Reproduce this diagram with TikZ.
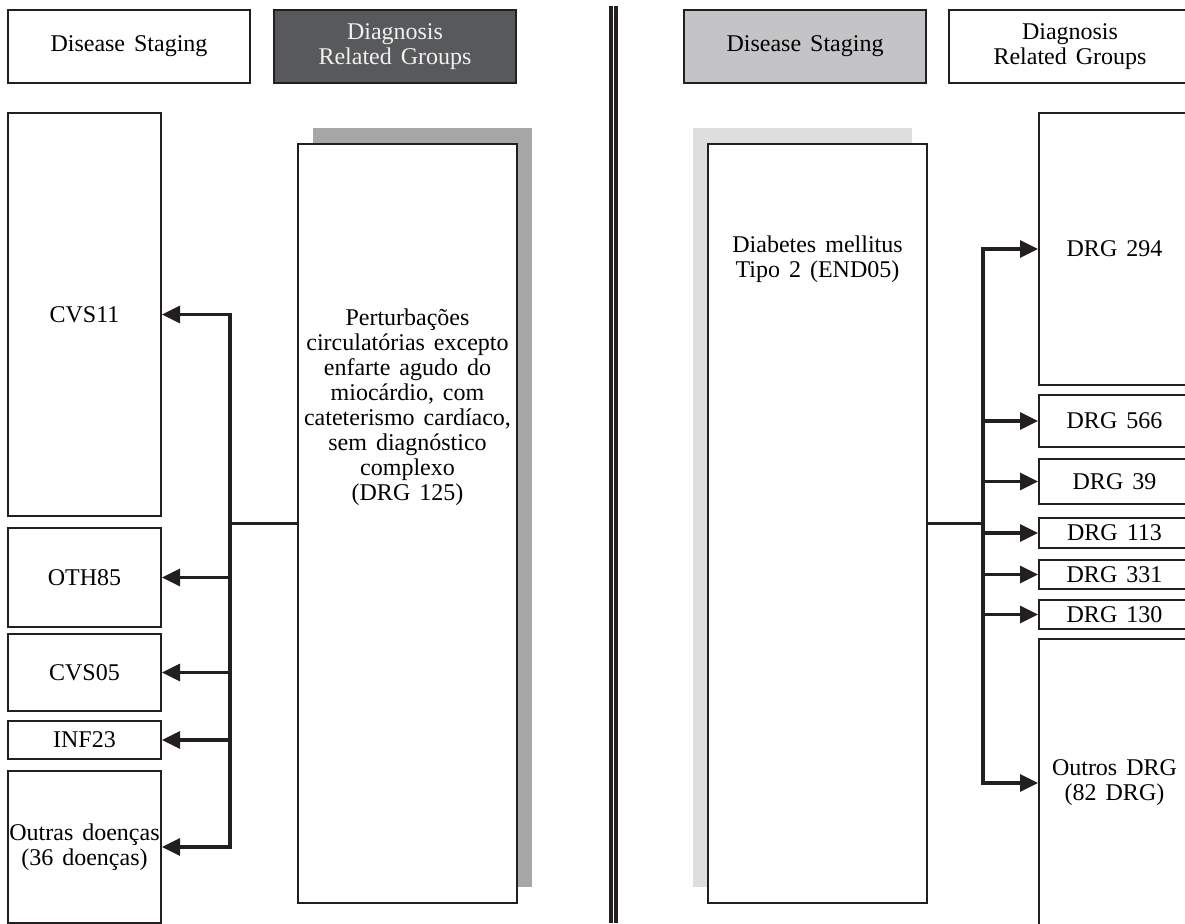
\documentclass[tikz,border=0pt]{standalone}
\usepackage{fontspec}
\setmainfont[WordSpace=1.5]{Liberation Serif}
\usetikzlibrary{arrows.meta,shadows}
\definecolor{boxline}{HTML}{231F20}
\definecolor{darkhead}{HTML}{58595B}
\definecolor{lighthead}{HTML}{C4C4C6}
\definecolor{shadowdark}{HTML}{A6A6A6}
\definecolor{shadowlight}{HTML}{DEDEDE}

\begin{document}
\begin{tikzpicture}[x=0.5pt,y=-0.5pt,
  font=\fontsize{12}{12.5}\selectfont,
  box/.style={draw=boxline,line width=1pt,fill=white,inner sep=0.5pt,align=center},
  head/.style={box,minimum width=121pt,minimum height=36.5pt},
  leftbox/.style={box,minimum width=76.5pt},
  drgbox/.style={box,minimum width=75.5pt},
  tallbox/.style={box,minimum width=109.5pt,minimum height=379.5pt},
  link/.style={draw=boxline,line width=1.6pt,line cap=rect},
  arr/.style={draw=boxline,line width=1.6pt,-{Triangle[length=9pt,width=8.5pt]}}]
  \useasboundingbox (0,0) rectangle (1185,923);
  \clip (0,0) rectangle (1185,923);

  % headers
  \node[head] (dsL) at (129,46.5) {Disease Staging};
  \node[head,fill=darkhead,text=white!94!black] (drgL) at (395,46.5) {Diagnosis\\Related Groups};
  \node[head,fill=lighthead] (dsR) at (805,46.5) {Disease Staging};
  \node[head] (drgR) at (1070,46.5) {Diagnosis\\Related Groups};

  % separator
  \draw[draw=boxline,line width=1.8pt,double=white,double distance=0.8pt] (613.5,6) -- (613.5,923);

  % left: one DRG to many diseases
  \node[tallbox,drop shadow={shadow xshift=7.5pt,shadow yshift=8pt,fill=shadowdark,opacity=1}] (drg125) at (407.5,523.5) {};
  \node[align=center] (drg125txt) at (407.5,407) {Perturbações\\circulatórias excepto\\enfarte agudo do\\miocárdio, com\\cateterismo cardíaco,\\sem diagnóstico\\complexo\\(DRG 125)};
  \node[leftbox,minimum height=201.5pt] (cvs11) at (84.5,314.5) {CVS11};
  \node[leftbox,minimum height=49.5pt] (oth85) at (84.5,577.5) {OTH85};
  \node[leftbox,minimum height=38.5pt] (cvs05) at (84.5,672.5) {CVS05};
  \node[leftbox,minimum height=19pt] (inf23) at (84.5,740) {INF23};
  \node[leftbox,minimum height=76pt] (outras) at (84.5,847) {Outras doenças\\(36 doenças)};

  \coordinate (jL) at (230,523.5);
  \draw[link] (drg125.west) -- (jL);
  \draw[link] (jL |- cvs11.east) -- (jL |- outras.east);
  \foreach \b in {cvs11,oth85,cvs05,inf23,outras}
    \draw[arr] (jL |- \b.east) -- (\b.east);

  % right: one disease to many DRGs
  \node[tallbox,drop shadow={shadow xshift=-7.5pt,shadow yshift=8pt,fill=shadowlight,opacity=1}] (dm2) at (817.5,523.5) {};
  \node[align=center] (dm2txt) at (817.5,259.5) {Diabetes mellitus\\Tipo 2 (END05)};
  \node[drgbox,minimum height=136pt] (d294) at (1114.5,249) {DRG 294};
  \node[drgbox,minimum height=26pt] (d566) at (1114.5,421) {DRG 566};
  \node[drgbox,minimum height=22.5pt] (d39) at (1114.5,481.5) {DRG 39};
  \node[drgbox,minimum height=15pt] (d113) at (1114.5,533) {DRG 113};
  \node[drgbox,minimum height=14.5pt] (d331) at (1114.5,574.5) {DRG 331};
  \node[drgbox,minimum height=14.5pt] (d130) at (1114.5,614.5) {DRG 130};
  \node[drgbox,minimum height=144pt] (dout) at (1114.5,783) {Outros DRG\\(82 DRG)};

  \coordinate (jR) at (983,523.5);
  \draw[link] (dm2.east) -- (jR);
  \draw[link] (jR |- d294.west) -- (jR |- dout.west);
  \foreach \b in {d294,d566,d39,d113,d331,d130,dout}
    \draw[arr] (jR |- \b.west) -- (\b.west);
\end{tikzpicture}
\end{document}
